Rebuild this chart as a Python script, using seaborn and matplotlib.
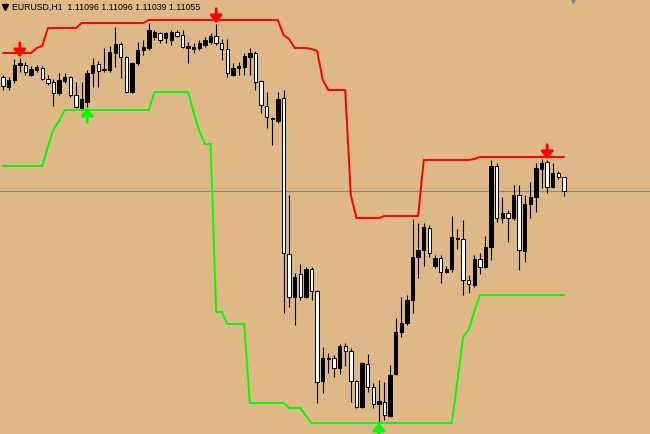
import numpy as np
import pandas as pd
import matplotlib.pyplot as plt
import seaborn as sns

# EURUSD H1 candles, left to right
opens = [1.11396, 1.11366, 1.11387, 1.11432, 1.11432, 1.11402, 1.11417, 1.11423, 1.11390, 1.11381,
         1.11348, 1.11384, 1.11396, 1.11342, 1.11303, 1.11321, 1.11408, 1.11435, 1.11417, 1.11417,
         1.11468, 1.11495, 1.11456, 1.11351, 1.11438, 1.11477, 1.11483, 1.11516, 1.11528, 1.11513,
         1.11507, 1.11531, 1.11522, 1.11483, 1.11480, 1.11483, 1.11492, 1.11501, 1.11519, 1.11498,
         1.11480, 1.11402, 1.11423, 1.11426, 1.11456, 1.11468, 1.11384, 1.11309, 1.11273, 1.11264,
         1.11333, 1.10865, 1.10736, 1.10805, 1.10736, 1.10820, 1.10754, 1.10484, 1.10553, 1.10553,
         1.10523, 1.10589, 1.10574, 1.10484, 1.10406, 1.10535, 1.10466, 1.10415, 1.10421, 1.10379,
         1.10505, 1.10631, 1.10658, 1.10727, 1.10856, 1.10877, 1.10943, 1.10829, 1.10853, 1.10811,
         1.10820, 1.10913, 1.10910, 1.10787, 1.10772, 1.10850, 1.10826, 1.10886, 1.11129, 1.10973,
         1.10988, 1.10973, 1.11042, 1.10874, 1.11015, 1.11036, 1.11120, 1.11141, 1.11066, 1.11108,
         1.11096]
highs = [1.11402, 1.11396, 1.11450, 1.11453, 1.11441, 1.11429, 1.11432, 1.11429, 1.11402, 1.11390,
         1.11408, 1.11408, 1.11399, 1.11381, 1.11381, 1.11417, 1.11453, 1.11444, 1.11483, 1.11489,
         1.11546, 1.11501, 1.11459, 1.11441, 1.11501, 1.11507, 1.11558, 1.11537, 1.11531, 1.11531,
         1.11537, 1.11537, 1.11537, 1.11501, 1.11498, 1.11507, 1.11516, 1.11528, 1.11555, 1.11510,
         1.11510, 1.11438, 1.11441, 1.11468, 1.11483, 1.11474, 1.11387, 1.11351, 1.11276, 1.11351,
         1.11357, 1.11042, 1.10808, 1.10835, 1.10826, 1.10826, 1.10757, 1.10586, 1.10568, 1.10562,
         1.10595, 1.10598, 1.10583, 1.10487, 1.10541, 1.10565, 1.10478, 1.10487, 1.10481, 1.10532,
         1.10673, 1.10736, 1.10742, 1.10970, 1.10958, 1.10958, 1.10952, 1.10862, 1.10862, 1.10829,
         1.10979, 1.10940, 1.10967, 1.10802, 1.10862, 1.10868, 1.10919, 1.11147, 1.11138, 1.11036,
         1.10997, 1.11072, 1.11072, 1.11042, 1.11081, 1.11138, 1.11150, 1.11147, 1.11138, 1.11114,
         1.11096]
lows = [1.11357, 1.11357, 1.11378, 1.11411, 1.11402, 1.11399, 1.11411, 1.11387, 1.11372, 1.11309,
        1.11342, 1.11378, 1.11336, 1.11303, 1.11297, 1.11306, 1.11366, 1.11366, 1.11411, 1.11411,
        1.11426, 1.11393, 1.11348, 1.11348, 1.11432, 1.11462, 1.11477, 1.11507, 1.11498, 1.11498,
        1.11492, 1.11516, 1.11483, 1.11438, 1.11468, 1.11477, 1.11486, 1.11495, 1.11492, 1.11447,
        1.11396, 1.11399, 1.11402, 1.11402, 1.11402, 1.11357, 1.11288, 1.11243, 1.11192, 1.11258,
        1.10688, 1.10706, 1.10652, 1.10727, 1.10733, 1.10727, 1.10418, 1.10448, 1.10508, 1.10496,
        1.10505, 1.10529, 1.10421, 1.10403, 1.10403, 1.10451, 1.10403, 1.10361, 1.10367, 1.10376,
        1.10502, 1.10616, 1.10652, 1.10688, 1.10793, 1.10829, 1.10856, 1.10823, 1.10778, 1.10808,
        1.10811, 1.10880, 1.10742, 1.10748, 1.10766, 1.10805, 1.10823, 1.10847, 1.10961, 1.10958,
        1.10901, 1.10967, 1.10817, 1.10841, 1.10973, 1.10991, 1.11063, 1.11048, 1.11063, 1.11090,
        1.11039]
closes = [1.11369, 1.11387, 1.11432, 1.11438, 1.11411, 1.11420, 1.11426, 1.11390, 1.11378, 1.11348,
          1.11387, 1.11396, 1.11342, 1.11306, 1.11330, 1.11408, 1.11432, 1.11414, 1.11420, 1.11471,
          1.11495, 1.11456, 1.11351, 1.11438, 1.11477, 1.11486, 1.11537, 1.11531, 1.11507, 1.11528,
          1.11531, 1.11519, 1.11486, 1.11489, 1.11486, 1.11498, 1.11507, 1.11519, 1.11498, 1.11480,
          1.11408, 1.11423, 1.11429, 1.11459, 1.11468, 1.11381, 1.11312, 1.11276, 1.11270, 1.11330,
          1.10868, 1.10736, 1.10796, 1.10736, 1.10820, 1.10754, 1.10481, 1.10553, 1.10550, 1.10523,
          1.10589, 1.10574, 1.10484, 1.10406, 1.10538, 1.10466, 1.10415, 1.10424, 1.10382, 1.10502,
          1.10631, 1.10658, 1.10727, 1.10856, 1.10877, 1.10946, 1.10868, 1.10853, 1.10811, 1.10820,
          1.10916, 1.10910, 1.10787, 1.10775, 1.10850, 1.10826, 1.10886, 1.11129, 1.10973, 1.10988,
          1.10973, 1.11042, 1.10877, 1.11015, 1.11036, 1.11123, 1.11138, 1.11066, 1.11108, 1.11096,
          1.11055]

# indicator channel (red = resistance, green = support)
upper_line = [1.11468, 1.11468, 1.11468, 1.11468, 1.11468, 1.11468, 1.11483, 1.11489, 1.11543, 1.11543,
              1.11543, 1.11543, 1.11543, 1.11543, 1.11558, 1.11558, 1.11558, 1.11558, 1.11558, 1.11558,
              1.11558, 1.11558, 1.11558, 1.11558, 1.11558, 1.11558, 1.11567, 1.11567, 1.11567, 1.11567,
              1.11567, 1.11567, 1.11567, 1.11567, 1.11567, 1.11567, 1.11567, 1.11567, 1.11567, 1.11567,
              1.11567, 1.11567, 1.11567, 1.11567, 1.11567, 1.11567, 1.11567, 1.11567, 1.11567, 1.11567,
              1.11522, 1.11510, 1.11483, 1.11483, 1.11483, 1.11480, 1.11474, 1.11387, 1.11357, 1.11357,
              1.11357, 1.11357, 1.11042, 1.10973, 1.10973, 1.10973, 1.10973, 1.10973, 1.10979, 1.10979,
              1.10979, 1.10979, 1.10979, 1.10979, 1.10979, 1.11147, 1.11147, 1.11147, 1.11147, 1.11147,
              1.11147, 1.11147, 1.11147, 1.11147, 1.11150, 1.11156, 1.11156, 1.11156, 1.11156, 1.11156,
              1.11156, 1.11156, 1.11156, 1.11156, 1.11156, 1.11156, 1.11156, 1.11156, 1.11156, 1.11156,
              1.11156]
lower_line = [1.11129, 1.11129, 1.11129, 1.11129, 1.11129, 1.11129, 1.11129, 1.11129, 1.11186, 1.11240,
              1.11264, 1.11297, 1.11297, 1.11297, 1.11297, 1.11297, 1.11297, 1.11297, 1.11297, 1.11297,
              1.11297, 1.11297, 1.11297, 1.11297, 1.11297, 1.11297, 1.11297, 1.11351, 1.11351, 1.11351,
              1.11351, 1.11351, 1.11351, 1.11351, 1.11288, 1.11234, 1.11195, 1.11195, 1.10691, 1.10691,
              1.10655, 1.10655, 1.10655, 1.10655, 1.10418, 1.10418, 1.10418, 1.10418, 1.10418, 1.10418,
              1.10418, 1.10403, 1.10403, 1.10403, 1.10379, 1.10358, 1.10358, 1.10358, 1.10358, 1.10358,
              1.10358, 1.10358, 1.10358, 1.10358, 1.10358, 1.10358, 1.10358, 1.10358, 1.10358, 1.10358,
              1.10358, 1.10358, 1.10358, 1.10358, 1.10358, 1.10358, 1.10358, 1.10358, 1.10358, 1.10358,
              1.10358, 1.10484, 1.10616, 1.10637, 1.10691, 1.10742, 1.10742, 1.10742, 1.10742, 1.10742,
              1.10742, 1.10742, 1.10742, 1.10742, 1.10742, 1.10742, 1.10742, 1.10742, 1.10742, 1.10742,
              1.10742]

sell_bars = [3, 38, 97]
buy_bars = [15, 67]
header = 'EURUSD,H1  1.11096 1.11096 1.11039 1.11055'

df = pd.DataFrame({'open': opens, 'high': highs, 'low': lows, 'close': closes,
                   'upper': upper_line, 'lower': lower_line})
df['bar'] = np.arange(len(df))
df['bull'] = df['close'] >= df['open']

sns.set_style('white')
bg = '#DEB887'
fig = plt.figure(figsize=(6.5, 4.34), dpi=100, facecolor=bg)
ax = fig.add_axes([0, 0, 1, 1])
ax.set_facecolor(bg)

# bid line
ax.axhline(df['close'].iloc[-1], color='#8c8a84', lw=0.8, zorder=1)

# wicks then bodies (MT4 classic: bull black, bear white)
ax.vlines(df['bar'], df['low'], df['high'], color='black', lw=0.8, zorder=2)
body_lo = df[['open', 'close']].min(axis=1)
body_h = np.maximum((df['close'] - df['open']).abs(), 0.00001)
ax.bar(df['bar'], body_h, bottom=body_lo, width=0.6,
       color=np.where(df['bull'], 'black', 'white'), edgecolor='black', linewidth=0.7, zorder=3)

sns.lineplot(data=df, x='bar', y='upper', color='#ff0000', lw=1.4, ax=ax, zorder=4)
sns.lineplot(data=df, x='bar', y='lower', color='#00ff00', lw=1.4, ax=ax, zorder=4)

arrow_style = '-|>,head_width=0.4,head_length=0.5'
for b in sell_bars:
    ax.annotate('', xy=(b, df['high'][b]), xytext=(0, 11), textcoords='offset points',
                arrowprops=dict(arrowstyle=arrow_style, color='#ff0000', lw=2.0,
                                mutation_scale=9, shrinkA=0, shrinkB=0.5), zorder=5)
for b in buy_bars:
    ax.annotate('', xy=(b, df['low'][b]), xytext=(0, -11), textcoords='offset points',
                arrowprops=dict(arrowstyle=arrow_style, color='#00ff00', lw=2.0,
                                mutation_scale=9, shrinkA=0, shrinkB=0.5), zorder=5)

ax.set_xlim(-0.535, 115.33)
ax.set_ylim(1.10325, 1.11627)
ax.set_axis_off()

# header and chart-shift marker
ax.plot([0.007], [0.984], marker='v', ms=4, color='black', transform=ax.transAxes, clip_on=False)
fig.text(12 / 650, 1 - 7.5 / 434, header, family='Liberation Sans', fontsize=6.3,
         color='black', va='center', ha='left')
ax.plot([573 / 650], [1.0], marker='v', ms=5, color='#7a8a9a', transform=ax.transAxes, clip_on=False)

plt.savefig('out.png', dpi=100, facecolor=bg)
